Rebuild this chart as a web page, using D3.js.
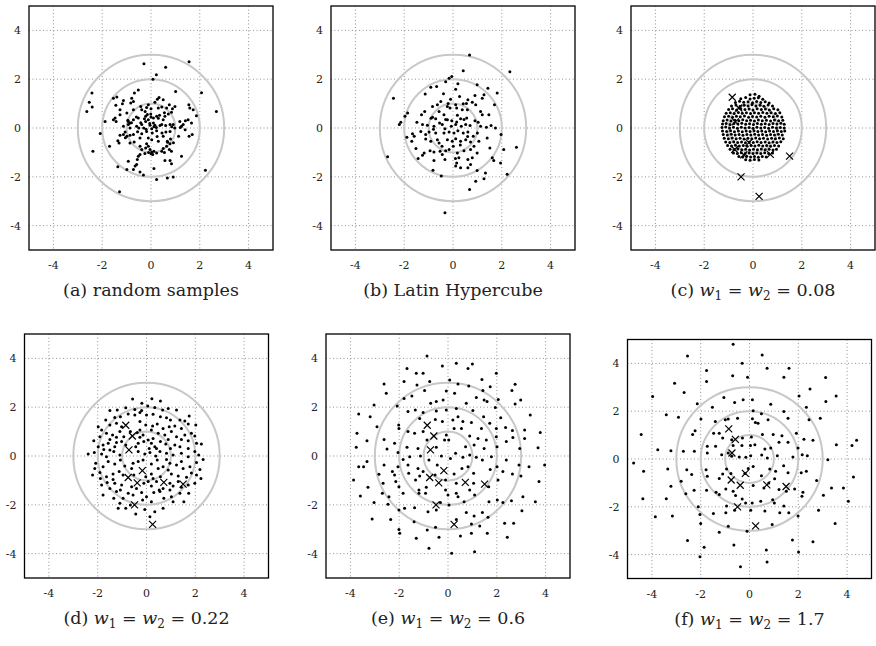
<!DOCTYPE html>
<html>
<head>
<meta charset="utf-8">
<title>Sample designs</title>
<script src="https://d3js.org/d3.v7.min.js"></script>
<style>
  body { margin: 0; background: #fff; }
  svg text { font-family: "DejaVu Serif", "Liberation Serif", serif; fill: #222; }
</style>
</head>
<body>
<div id="chart"></div>
<script>
// ---- data ----
var ticks = [-4, -2, 0, 2, 4];
var rings = [1, 2, 3];
var captionText = ["random samples", "Latin Hypercube"];
var weights = [0.08, 0.22, 0.6, 1.7];

// fixed points (drawn as crosses in c-f)
var crosses = [[-0.85,1.26],[-0.58,0.82],[-0.72,0.25],[-0.17,-0.6],[-0.75,-0.88],[-0.38,-1.1],[0.71,-1.08],[1.5,-1.15],[-0.49,-2.0],[0.25,-2.8]];

// (a) random samples
var dotsA = [[1.56,2.72],[-0.29,2.63],[0.6,2.49],[0.22,2.18],[0.08,2.0],[-0.52,1.56],[-0.68,1.43],[1.01,1.5],[2.07,1.44],[-2.42,1.43],
[-1.4,1.27],[-1.54,1.22],[-1.13,1.13],[-0.79,1.22],[0.33,1.25],[0.26,1.18],[0.5,1.16],[-2.53,1.06],[-0.72,1.09],[-1.17,0.99],
[-0.83,1.02],[0.16,1.06],[0.75,0.95],[0.98,0.88],[1.55,0.95],[-2.41,0.86],[-0.42,0.88],[-0.11,0.95],[0.44,0.86],[-0.18,0.84],
[-2.63,0.68],[2.68,0.68],[1.59,0.82],[1.73,0.75],[1.86,0.5],[-1.27,0.75],[-1.44,0.93],[-0.72,0.75],[-0.38,0.75],[-0.24,0.68],
[0.0,0.79],[0.3,0.82],[0.64,0.82],[0.88,0.79],[-0.01,0.57],[-0.22,0.48],[0.71,0.57],[0.84,0.65],[0.57,0.48],[-1.27,0.54],
[-0.99,0.61],[-1.47,0.41],[-1.43,0.27],[-1.54,0.34],[-0.93,0.27],[-0.86,0.2],[-0.72,0.34],[-0.52,0.41],[-0.27,0.38],[-0.11,0.34],
[0.1,0.41],[0.23,0.48],[0.5,0.34],[0.78,0.14],[1.18,0.27],[1.32,0.14],[1.41,0.3],[1.52,0.34],[-1.88,0.27],[0.44,0.14],
[0.1,0.2],[-1.13,0.07],[-0.93,0.14],[-0.86,0.0],[-0.59,0.07],[-0.38,0.14],[-0.22,0.27],[-0.04,0.11],[0.16,0.11],[0.37,0.1],
[0.6,0.1],[0.91,0.14],[1.25,0.07],[1.66,0.2],[-2.08,-0.23],[-1.27,-0.3],[-1.06,-0.16],[-0.99,-0.34],[-0.86,-0.3],[-0.72,-0.27],
[-0.38,-0.24],[-0.18,-0.14],[0.03,-0.03],[0.23,-0.11],[0.61,-0.16],[0.78,-0.14],[1.13,-0.34],[1.4,-0.07],[1.56,-0.34],[1.69,-0.27],
[-1.13,-0.27],[-1.36,-0.52],[-1.31,-0.61],[-0.86,-0.61],[-0.69,-0.57],[-0.45,-0.41],[-0.11,-0.41],[0.03,-0.48],[0.3,-0.54],[0.5,-0.34],
[0.67,-0.54],[0.78,-0.65],[-1.7,-0.75],[-0.18,-0.65],[-0.45,-0.75],[-0.38,-0.88],[-0.22,-0.82],[-0.11,-0.75],[-0.04,-0.88],[0.03,-0.98],
[0.12,-0.95],[0.23,-1.02],[0.44,-0.95],[0.5,-0.84],[0.64,-0.75],[0.75,-0.88],[0.84,-0.95],[-2.38,-0.95],[-0.45,-1.09],[0.07,-1.09],
[-0.52,-1.16],[-0.56,-1.29],[1.25,-1.16],[0.57,-1.33],[0.78,-1.33],[0.84,-1.47],[-0.93,-1.36],[-0.59,-1.5],[-0.65,-1.56],[-1.36,-1.59],
[-0.99,-1.7],[-0.72,-1.7],[-0.45,-1.8],[-0.31,-1.93],[0.12,-1.66],[2.23,-1.73],[0.23,-2.11],[0.67,-2.05],[0.91,-2.01],[-1.29,-2.61],
[-0.3,0.0],[-0.2,-0.05],[0.12,0.05],[0.22,0.02],[-0.05,0.18],[0.05,-0.2],[-0.42,0.22],[0.35,0.52],[-0.6,0.45],[0.45,-0.2],
[0.8,-0.45],[0.92,-0.6],[0.68,-0.58],[0.85,0.05],[0.97,0.0],[1.2,0.02],[-0.25,-1.05],[-0.1,-1.0],[0.0,-1.06],[0.55,-1.0],
[-1.05,-0.4],[-0.95,0.32],[-0.8,0.22],[0.55,0.62],[0.0,0.45],[-0.15,0.55],[0.3,0.4],[-0.5,0.0],[-0.55,-0.15],[0.25,-0.35]];

// (b) Latin hypercube
var dotsB = [[0.68,2.99],[0.42,2.35],[2.33,2.31],[-0.05,2.11],[-0.16,2.04],[-0.3,1.9],[0.2,1.81],[0.99,1.77],[1.43,1.63],[-0.91,1.67],
[-0.67,1.7],[0.11,1.59],[1.81,1.43],[-1.14,1.39],[-2.44,1.22],[-0.39,1.4],[0.9,1.33],[1.27,1.36],[1.2,1.22],[0.27,1.29],
[-0.1,1.18],[-0.5,1.09],[-0.84,0.88],[0.61,1.16],[0.42,0.99],[0.79,1.06],[0.93,0.95],[1.7,0.95],[0.11,0.95],[-0.23,0.88],
[-0.64,0.95],[-1.16,0.68],[-1.29,0.54],[-1.86,0.61],[-1.97,0.48],[-0.57,0.68],[-0.37,0.54],[-0.12,0.82],[0.15,0.82],[0.38,0.75],
[0.59,0.75],[1.13,0.68],[1.2,0.54],[1.47,0.54],[-0.84,0.44],[-0.71,0.38],[-0.23,0.34],[0.18,0.52],[0.31,0.38],[0.56,0.41],
[0.9,0.3],[1.03,0.24],[-2.14,0.24],[-2.2,0.14],[-1.48,0.24],[-1.25,0.14],[-1.05,0.11],[-0.78,0.07],[-0.44,0.14],[-0.33,-0.03],
[-0.07,0.07],[0.11,0.14],[0.34,0.07],[0.52,0.14],[1.13,0.07],[1.37,0.03],[1.56,0.1],[1.74,0.0],[-1.89,-0.38],[-1.66,-0.24],
[-1.59,-0.34],[-1.32,-0.14],[-1.12,-0.27],[-0.98,-0.16],[-0.71,-0.2],[-0.37,-0.2],[-0.16,-0.16],[0.04,-0.2],[0.2,-0.11],[0.42,-0.2],
[0.61,-0.16],[0.83,-0.34],[1.4,-0.41],[1.97,-0.27],[-1.69,-0.54],[-1.12,-0.45],[-0.91,-0.54],[-0.64,-0.48],[-0.57,-0.61],[-0.23,-0.48],
[-0.03,-0.54],[0.11,-0.44],[0.31,-0.54],[0.52,-0.48],[0.72,-0.57],[1.06,-0.54],[-1.52,-0.84],[-1.18,-1.02],[-0.94,-0.93],[-0.78,-0.98],
[-0.53,-0.95],[-0.44,-1.09],[-0.3,-0.93],[-0.16,-0.88],[0.01,-0.75],[0.18,-1.02],[0.45,-0.93],[0.72,-0.88],[0.86,-0.75],[0.99,-1.02],
[1.51,-0.82],[2.08,-0.88],[2.6,-0.79],[-2.68,-1.18],[-1.43,-1.25],[-1.25,-1.12],[-0.78,-1.33],[-0.33,-1.29],[0.24,-1.22],[0.15,-1.43],
[0.61,-1.29],[0.79,-1.22],[1.61,-1.22],[1.67,-1.33],[1.95,-1.43],[-0.82,-1.73],[-0.48,-1.97],[0.11,-1.56],[0.31,-1.63],[0.61,-1.63],
[0.72,-1.5],[0.99,-1.74],[1.33,-1.84],[1.27,-2.08],[0.93,-2.18],[2.22,-1.9],[0.68,-2.52],[-0.33,-3.47],[-0.05,0.3],[0.15,0.25],
[-0.3,0.35],[0.45,0.35],[-0.55,0.2],[0.7,0.1],[-0.8,-0.05],[0.6,-0.35],[0.3,-0.7],[-0.45,-0.75],[0.1,-1.25],[-0.9,0.4],
[1.0,-0.2],[0.55,1.0],[-0.2,1.0]];

// (c) w1 = w2 = 0.08
var dotsC = [[-0.12,1.36],[0.08,1.38],[0.25,1.3],
[-0.5,1.2],[-0.3,1.25],[-0.12,1.19],[0.05,1.22],[0.22,1.24],[0.4,1.18],
[-0.72,1.05],[-0.55,1.1],[-0.38,1.06],[-0.2,1.08],[-0.02,1.03],[0.15,1.09],[0.32,1.05],[0.5,1.08],[0.66,1.02],
[-0.88,0.9],[-0.7,0.94],[-0.53,0.89],[-0.36,0.93],[-0.2,0.9],[-0.04,0.95],[0.12,0.9],[0.29,0.93],[0.45,0.89],[0.62,0.94],[0.8,0.9],
[-1.0,0.76],[-0.84,0.79],[-0.67,0.74],[-0.5,0.79],[-0.33,0.76],[-0.16,0.78],[0.0,0.74],[0.17,0.79],[0.34,0.76],[0.51,0.78],[0.67,0.74],[0.85,0.79],[1.02,0.75],
[-1.1,0.6],[-0.93,0.63],[-0.77,0.59],[-0.6,0.64],[-0.44,0.6],[-0.27,0.62],[-0.1,0.59],[0.06,0.63],[0.23,0.6],[0.4,0.64],[0.57,0.6],[0.74,0.62],[0.92,0.59],[1.1,0.63],
[-1.17,0.46],[-1.0,0.48],[-0.84,0.44],[-0.68,0.48],[-0.52,0.46],[-0.35,0.49],[-0.18,0.44],[-0.02,0.47],[0.15,0.45],[0.32,0.48],[0.49,0.44],[0.66,0.48],[0.83,0.46],[1.0,0.49],[1.18,0.45],
[-1.22,0.3],[-1.06,0.33],[-0.9,0.29],[-0.74,0.32],[-0.58,0.3],[-0.42,0.34],[-0.26,0.3],[-0.1,0.32],[0.06,0.29],[0.22,0.33],[0.38,0.3],[0.55,0.32],[0.72,0.29],[0.88,0.33],[1.05,0.3],[1.22,0.32],
[-1.25,0.16],[-1.1,0.18],[-0.94,0.14],[-0.78,0.18],[-0.62,0.16],[-0.46,0.19],[-0.3,0.15],[-0.14,0.17],[0.02,0.14],[0.18,0.18],[0.34,0.15],[0.5,0.17],[0.66,0.14],[0.82,0.18],[0.98,0.16],[1.14,0.19],[1.28,0.15],
[-1.27,0.02],[-1.12,0.04],[-0.96,0.0],[-0.8,0.03],[-0.64,-0.01],[-0.48,0.03],[-0.32,0.0],[-0.16,0.02],[0.0,-0.01],[0.16,0.03],[0.32,0.0],[0.48,0.02],[0.64,-0.01],[0.8,0.03],[0.96,0.0],[1.12,0.02],[1.28,0.0],
[-1.25,-0.12],[-1.08,-0.14],[-0.92,-0.11],[-0.76,-0.15],[-0.6,-0.12],[-0.44,-0.15],[-0.28,-0.12],[-0.12,-0.14],[0.04,-0.11],[0.2,-0.14],[0.36,-0.12],[0.52,-0.15],[0.68,-0.12],[0.84,-0.14],[1.0,-0.11],[1.16,-0.14],[1.3,-0.12],
[-1.22,-0.27],[-1.05,-0.29],[-0.89,-0.26],[-0.73,-0.29],[-0.57,-0.27],[-0.41,-0.3],[-0.25,-0.27],[-0.09,-0.29],[0.07,-0.26],[0.23,-0.29],[0.39,-0.27],[0.56,-0.3],[0.72,-0.27],[0.88,-0.29],[1.04,-0.26],[1.2,-0.29],
[-1.18,-0.42],[-1.01,-0.44],[-0.85,-0.41],[-0.69,-0.44],[-0.53,-0.42],[-0.37,-0.45],[-0.21,-0.42],[-0.05,-0.44],[0.11,-0.41],[0.27,-0.44],[0.43,-0.42],[0.6,-0.45],[0.76,-0.42],[0.92,-0.44],[1.08,-0.41],[1.24,-0.44],
[-1.12,-0.57],[-0.95,-0.59],[-0.79,-0.56],[-0.63,-0.59],[-0.47,-0.57],[-0.31,-0.6],[-0.15,-0.57],[0.01,-0.59],[0.17,-0.56],[0.33,-0.59],[0.5,-0.57],[0.66,-0.6],[0.82,-0.57],[0.98,-0.59],[1.14,-0.56],
[-1.04,-0.72],[-0.88,-0.74],[-0.72,-0.71],[-0.56,-0.74],[-0.4,-0.72],[-0.24,-0.75],[-0.08,-0.72],[0.08,-0.74],[0.24,-0.71],[0.4,-0.74],[0.56,-0.72],[0.72,-0.75],[0.88,-0.72],[1.05,-0.74],
[-0.94,-0.87],[-0.78,-0.89],[-0.62,-0.86],[-0.46,-0.89],[-0.3,-0.87],[-0.14,-0.9],[0.02,-0.87],[0.18,-0.89],[0.34,-0.86],[0.5,-0.89],[0.66,-0.87],[0.82,-0.9],[0.96,-0.87],
[-0.8,-1.02],[-0.64,-1.04],[-0.48,-1.01],[-0.32,-1.04],[-0.16,-1.02],[0.0,-1.05],[0.16,-1.02],[0.32,-1.04],[0.48,-1.01],[0.64,-1.04],[0.8,-1.02],
[-0.58,-1.17],[-0.42,-1.19],[-0.26,-1.16],[-0.1,-1.19],[0.06,-1.17],[0.22,-1.2],[0.38,-1.17],[0.54,-1.19],
[-0.3,-1.3],[-0.12,-1.32],[0.06,-1.29],[0.24,-1.31]];

// (d) w1 = w2 = 0.22
var dotsD = [[-0.57,2.34],[0.22,2.35],[0.57,2.25],[-0.19,2.16],
[-1.5,1.86],[-1.2,1.89],[-0.85,1.98],[-0.48,1.91],[-0.2,1.86],[0.05,2.05],[0.34,1.99],[0.66,1.89],[0.89,1.95],[1.23,1.89],[1.75,1.64],
[-1.67,1.48],[-1.3,1.58],[-1.07,1.61],[-0.75,1.72],[-0.48,1.68],[-0.27,1.78],[0.0,1.68],[0.27,1.71],[0.57,1.61],[0.82,1.57],[0.98,1.48],[1.37,1.48],[1.57,1.43],
[-1.98,1.2],[-1.5,1.27],[-1.23,1.34],[-1.02,1.2],[-0.27,1.41],[-0.03,1.27],[0.25,1.23],[0.44,1.31],[0.68,1.13],[0.93,1.2],[1.16,1.23],[1.43,1.13],[1.71,1.31],[2.02,1.27],[-1.84,1.07],[0.2,1.07],[-0.27,1.07],
[-1.64,0.93],[-1.39,0.86],[-1.09,1.0],[-0.66,1.0],[-0.38,0.96],[-0.14,0.86],[0.48,0.93],[0.75,0.86],[1.02,1.0],[1.23,0.79],[1.57,0.86],[1.84,0.93],[1.98,0.82],[-1.91,0.79],[-2.16,0.63],[-1.5,0.68],[-1.23,0.77],[-0.93,0.79],[-0.27,0.77],[0.89,0.68],[1.43,0.68],[1.71,0.63],
[-1.78,0.45],[-1.57,0.52],[-1.3,0.38],[-1.02,0.59],[-0.85,0.45],[-0.34,0.52],[-0.11,0.59],[0.2,0.52],[0.34,0.38],[0.57,0.59],[1.16,0.45],[1.37,0.38],[1.71,0.31],[2.05,0.52],[2.25,0.49],[-1.98,0.38],[-1.23,0.55],[-0.44,0.38],[0.07,0.66],[0.27,0.72],[0.79,0.49],[0.98,0.31],
[-2.39,0.08],[-2.14,0.14],[-1.84,0.08],[-1.64,-0.03],[-1.34,0.18],[-1.09,0.04],[-0.34,0.18],[-0.07,0.08],[0.14,0.14],[0.38,0.0],[0.55,0.18],[0.82,0.11],[1.09,0.04],[1.43,0.11],[1.71,-0.03],[1.98,0.18],[2.14,0.04],[2.32,-0.14],[-1.75,0.27],[-1.5,0.25],[0.11,0.31],[0.41,0.31],[-0.14,-0.16],[0.82,-0.14],
[-2.08,-0.3],[-1.78,-0.44],[-1.57,-0.23],[-1.3,-0.33],[-1.07,-0.16],[-0.89,-0.41],[-0.55,-0.3],[-0.34,-0.23],[0.2,-0.33],[0.44,-0.16],[0.68,-0.44],[0.96,-0.3],[1.23,-0.37],[1.5,-0.51],[1.78,-0.44],[2.05,-0.27],[2.19,-0.55],[-2.12,-0.51],[-0.61,-0.51],[0.48,-0.51],[0.89,-0.57],[1.43,-0.23],
[-2.21,-0.78],[-1.91,-0.68],[-1.64,-0.85],[-1.37,-0.74],[-1.12,-0.64],[-0.96,-0.78],[-0.52,-0.78],[-0.03,-0.85],[0.2,-0.74],[0.27,-0.92],[0.57,-0.85],[1.02,-0.74],[1.3,-0.82],[1.64,-0.87],[1.84,-0.7],[2.05,-0.78],[2.23,-0.92],[-1.89,-0.92],[-1.37,-0.96],[0.07,-1.05],
[-1.84,-1.19],[-1.61,-1.09],[-1.3,-1.12],[-1.02,-1.19],[-0.61,-1.26],[-0.11,-1.12],[0.2,-1.23],[0.41,-1.05],[0.68,-1.33],[0.96,-1.12],[1.09,-1.23],[1.43,-1.28],[1.71,-1.19],[1.98,-1.12],[-1.5,-1.33],[-1.07,-1.39],[-0.41,-1.33],[0.52,-1.39],[0.96,-1.39],[1.3,-1.05],
[-1.78,-1.6],[-1.34,-1.73],[-0.96,-1.73],[-0.75,-1.53],[-0.55,-1.6],[-0.2,-1.5],[0.0,-1.67],[0.3,-1.5],[0.55,-1.46],[0.71,-1.73],[1.02,-1.67],[1.37,-1.53],[1.73,-1.53],[-1.23,-1.46],[-0.16,-1.8],[0.2,-1.87],[1.09,-1.87],
[-1.16,-2.14],[-0.85,-2.14],[-0.66,-2.01],[-0.44,-2.38],[-0.07,-2.19],[0.34,-2.28],[0.68,-2.14],[1.53,-1.87],[0.14,-2.49],[-1.09,-1.94]];

// (e) w1 = w2 = 0.6
var dotsE = [[-0.86,4.1],[-0.23,3.69],[0.34,3.8],[0.82,3.59],[1.0,3.77],[-1.68,3.59],[-1.3,3.39],[-1.02,3.39],[1.98,3.39],[1.39,3.14],
[1.73,2.84],[-2.62,2.95],[-2.53,2.57],[-1.8,3.05],[-1.27,2.91],[-0.75,3.05],[0.07,3.11],[0.41,2.95],[0.85,2.87],[1.43,2.68],
[2.62,2.68],[2.75,2.94],[2.06,2.32],[2.98,2.3],[2.75,2.13],[3.37,1.68],[-0.96,2.68],[-0.07,2.66],[0.27,2.57],[1.16,2.4],
[1.48,2.3],[1.6,2.23],[-1.48,2.46],[-1.8,2.36],[-2.08,2.05],[-3.03,2.09],[-0.48,2.23],[-0.71,2.16],[-0.2,2.3],[0.75,2.16],
[0.34,1.95],[-0.07,1.89],[1.02,1.86],[1.46,1.61],[1.94,1.99],[2.16,1.57],[-3.66,1.72],[-3.19,1.61],[-2.91,1.2],[-1.64,1.82],
[-1.34,1.89],[-1.02,1.78],[-0.48,1.84],[-1.16,1.54],[-0.52,1.5],[-0.23,1.41],[0.2,1.48],[0.41,1.61],[0.61,1.41],[0.25,1.13],
[0.55,1.13],[0.96,1.37],[1.37,1.13],[1.71,1.34],[1.98,1.13],[2.36,1.17],[2.64,1.04],[3.14,1.07],[3.78,0.96],[-3.73,0.93],
[-3.32,0.63],[-3.76,0.36],[-2.62,0.68],[-2.02,1.27],[-2.01,1.13],[-1.64,1.0],[-1.37,0.93],[-1.02,1.0],[-0.86,0.66],[-0.07,0.86],
[-0.14,0.66],[0.03,0.66],[0.89,0.82],[1.23,0.72],[1.57,0.66],[1.98,0.79],[2.39,0.59],[2.66,0.76],[3.14,0.72],[-2.5,0.29],
[-2.19,0.52],[-1.68,0.36],[-1.23,0.31],[-0.48,0.36],[0.72,0.38],[1.07,0.45],[1.48,0.31],[2.01,0.38],[2.94,0.31],[3.69,0.34],
[-3.66,-0.44],[-3.46,-0.44],[-3.32,-0.23],[-3.87,-0.98],[3.96,-0.37],[-2.62,-0.37],[-2.05,0.14],[-1.84,-0.14],[-1.57,-0.03],[-1.13,0.0],
[-0.78,-0.16],[-0.27,0.0],[0.1,-0.1],[0.31,0.11],[0.61,-0.05],[0.89,0.04],[1.16,-0.05],[1.41,-0.16],[1.78,-0.03],[2.39,-0.16],
[2.91,-0.37],[3.32,-0.44],[-2.05,-0.44],[-1.64,-0.37],[-1.23,-0.51],[-0.44,-0.37],[0.25,-0.74],[0.57,-0.51],[0.82,-0.44],[1.05,-0.71],
[1.73,-0.55],[2.01,-0.44],[2.25,-0.64],[2.64,-0.74],[2.99,-0.82],[3.73,-1.05],[-2.83,-0.75],[-2.28,-0.64],[-2.19,-0.78],[-1.61,-0.71],
[-1.16,-0.82],[-1.02,-0.64],[-0.53,-0.78],[-0.1,-0.98],[0.34,-1.12],[1.05,-1.12],[2.05,-0.98],[-2.66,-1.12],[-3.28,-1.28],[-3.59,-1.64],
[-2.69,-1.53],[-2.42,-1.67],[-2.14,-1.05],[-2.01,-1.26],[-1.84,-1.53],[-1.33,-0.98],[-1.19,-1.39],[-1.19,-1.53],[-0.92,-1.53],[-0.89,-1.28],
[-0.1,-1.39],[0.0,-1.6],[0.34,-1.53],[0.41,-1.67],[0.89,-1.39],[1.09,-1.6],[1.67,-1.26],[1.68,-1.87],[2.02,-1.8],[2.25,-1.91],
[2.6,-1.83],[3.07,-1.67],[3.58,-1.87],[-3.03,-1.91],[-2.46,-1.98],[-2.01,-2.21],[-1.78,-2.14],[-1.37,-2.12],[-0.82,-2.28],[-0.48,-2.21],
[-0.31,-1.91],[0.04,-2.01],[0.66,-1.87],[0.75,-2.32],[1.07,-2.46],[1.41,-2.32],[1.64,-2.51],[3.03,-2.24],[-3.11,-2.58],[-2.35,-2.6],
[-2.01,-3.01],[-1.98,-3.17],[-1.39,-2.69],[-0.85,-3.03],[-0.51,-2.92],[0.34,-2.6],[0.96,-2.79],[1.3,-2.87],[1.61,-3.17],[2.32,-2.76],
[2.69,-2.76],[2.43,-3.33],[-1.3,-3.37],[-0.37,-3.33],[0.51,-3.28],[0.96,-3.17],[-0.78,-3.78],[0.15,-3.99],[1.09,-3.92]];

// (f) w1 = w2 = 1.7
var dotsF = [[-0.67,4.8],[-2.54,4.31],[0.52,4.35],[-0.3,4.01],[0.72,3.8],[1.62,3.8],[-1.76,3.7],[-1.76,3.24],[-0.69,3.48],[-0.08,3.42],
[1.41,3.42],[3.12,3.41],[-3.07,3.17],[-2.68,2.78],[-3.97,2.61],[-1.05,2.57],[2.48,2.93],[2.03,2.64],[-0.61,2.36],[-0.26,2.48],
[0.12,2.48],[3.55,2.64],[3.13,2.41],[2.33,2.17],[-2.14,2.31],[-1.52,2.17],[-3.41,1.85],[-2.91,1.75],[-1.99,1.67],[-1.4,1.57],
[-0.99,1.64],[-0.87,1.67],[-0.49,1.7],[0.15,2.02],[0.49,1.89],[0.87,2.29],[1.41,1.99],[1.58,1.71],[2.44,1.64],[2.9,1.71],
[0.12,1.68],[0.24,1.53],[0.35,1.5],[0.76,1.64],[-2.33,1.02],[-2.23,1.18],[-1.47,1.08],[-1.24,1.08],[-1.1,0.88],[-0.73,0.81],
[-0.29,0.88],[0.08,0.92],[0.53,1.02],[0.97,1.02],[1.33,0.97],[1.58,0.7],[1.92,1.08],[2.23,0.83],[2.6,0.78],[3.56,0.6],
[4.39,0.78],[-4.44,1.02],[-3.76,0.39],[-3.22,0.35],[-2.71,0.32],[-2.26,0.32],[-1.73,0.53],[-1.39,0.53],[-0.67,0.56],[-0.31,0.56],
[0.04,0.56],[0.22,0.6],[0.63,0.42],[0.87,0.46],[1.21,0.7],[1.99,0.46],[4.2,0.56],[-1.73,0.25],[-1.14,0.18],[-0.87,0.25],
[-0.73,0.11],[-0.42,0.08],[-0.15,0.07],[0.05,0.14],[0.5,0.17],[0.73,0.04],[1.14,0.14],[1.78,0.08],[2.16,0.18],[2.37,0.14],
[3.21,-0.03],[-4.75,-0.17],[-4.34,-0.51],[-3.35,-0.42],[-2.57,-0.45],[-2.37,-0.65],[-1.78,-0.45],[-1.73,-0.72],[-1.24,-0.82],[-1.1,-0.63],
[-0.94,-0.42],[-0.76,-0.61],[-0.19,-0.61],[-0.05,-0.4],[0.15,-0.31],[0.49,-0.7],[0.83,-0.42],[1.07,-0.51],[1.4,-0.28],[1.58,-0.58],
[2.12,-0.58],[2.33,-0.51],[4.26,-0.75],[3.85,-1.21],[-3.22,-1.14],[-2.8,-0.93],[-2.61,-1.45],[-2.27,-1.31],[-1.76,-1.31],[-1.37,-1.39],
[-1.24,-1.49],[-0.97,-1.25],[-0.67,-1.35],[-0.57,-1.53],[0.15,-1.11],[0.59,-1.21],[0.79,-1.0],[1.03,-0.83],[1.21,-1.28],[1.51,-1.35],
[1.85,-1.25],[2.15,-1.56],[2.75,-0.9],[3.03,-1.52],[3.36,-1.21],[-4.37,-1.66],[-3.41,-1.66],[-2.1,-2.0],[-1.48,-2.28],[-0.94,-1.97],
[-0.61,-2.14],[-0.3,-1.67],[-0.16,-1.84],[0.11,-1.84],[0.46,-1.77],[0.95,-1.7],[1.02,-1.84],[1.41,-1.97],[1.61,-2.25],[2.19,-1.39],
[2.83,-2.14],[4.05,-1.77],[-3.86,-2.42],[-3.16,-2.39],[-2.03,-2.32],[-0.97,-2.25],[0.05,-2.14],[0.63,-2.18],[0.93,-2.74],[1.24,-2.25],
[1.99,-2.39],[3.51,-2.7],[-2.0,-2.7],[-1.24,-3.06],[-0.87,-2.81],[-0.1,-3.02],[-0.64,-3.6],[-2.54,-3.41],[-1.86,-3.69],[1.76,-3.39],
[2.6,-3.46],[-2.03,-4.09],[-0.37,-4.51],[0.72,-4.31],[0.69,-3.81],[2.01,-3.89]];

// ---- layout ----
var W = 876, H = 646;
var svg = d3.select("#chart").append("svg")
    .attr("width", W)
    .attr("height", H);

// frame of each panel in pixels
var panels = [
    {dots: dotsA, x0: 29,    x1: 273,   y0: 6,     y1: 250,   cap: "a", name: captionText[0]},
    {dots: dotsB, x0: 331,   x1: 575,   y0: 6,     y1: 250,   cap: "b", name: captionText[1]},
    {dots: dotsC, x0: 631,   x1: 875,   y0: 6,     y1: 250,   cap: "c", w: weights[0]},
    {dots: dotsD, x0: 24.5,  x1: 268.5, y0: 334,   y1: 578,   cap: "d", w: weights[1]},
    {dots: dotsE, x0: 326,   x1: 570,   y0: 334,   y1: 578,   cap: "e", w: weights[2]},
    {dots: dotsF, x0: 627.5, x1: 871.5, y0: 339.5, y1: 578.5, cap: "f", w: weights[3]}
];

panels.forEach(function(p, i) {
    var x = d3.scaleLinear().domain([-5, 5]).range([p.x0, p.x1]);
    var y = d3.scaleLinear().domain([-5, 5]).range([p.y1, p.y0]);
    var g = svg.append("g");

    // dotted grid
    g.selectAll(".gx").data(ticks).enter().append("line")
        .attr("x1", function(d){ return x(d); }).attr("x2", function(d){ return x(d); })
        .attr("y1", p.y0).attr("y2", p.y1)
        .attr("stroke", "#777").attr("stroke-width", 0.8)
        .attr("stroke-dasharray", "1,2.5");
    g.selectAll(".gy").data(ticks).enter().append("line")
        .attr("y1", function(d){ return y(d); }).attr("y2", function(d){ return y(d); })
        .attr("x1", p.x0).attr("x2", p.x1)
        .attr("stroke", "#777").attr("stroke-width", 0.8)
        .attr("stroke-dasharray", "1,2.5");

    // grey rings
    g.selectAll(".ring").data(rings).enter().append("ellipse")
        .attr("cx", x(0)).attr("cy", y(0))
        .attr("rx", function(d){ return x(d) - x(0); })
        .attr("ry", function(d){ return y(0) - y(d); })
        .attr("fill", "none")
        .attr("stroke", "#c8c8c8")
        .attr("stroke-width", 2);

    // sample points
    g.selectAll(".dot").data(p.dots).enter().append("circle")
        .attr("cx", function(d){ return x(d[0]); })
        .attr("cy", function(d){ return y(d[1]); })
        .attr("r", 1.5)
        .attr("fill", "#000");

    // fixed points as crosses
    if (p.w !== undefined) {
        var s = 3.5;
        g.selectAll(".cross").data(crosses).enter().append("path")
            .attr("d", function(d) {
                var cx = x(d[0]), cy = y(d[1]);
                return "M" + (cx - s) + "," + (cy - s) + "L" + (cx + s) + "," + (cy + s) +
                       "M" + (cx - s) + "," + (cy + s) + "L" + (cx + s) + "," + (cy - s);
            })
            .attr("stroke", "#000")
            .attr("stroke-width", 1.2)
            .attr("fill", "none");
    }

    // frame
    g.append("rect")
        .attr("x", p.x0).attr("y", p.y0)
        .attr("width", p.x1 - p.x0).attr("height", p.y1 - p.y0)
        .attr("fill", "none").attr("stroke", "#000").attr("stroke-width", 1.3);

    // tick labels
    g.selectAll(".xt").data(ticks).enter().append("text")
        .attr("x", function(d){ return x(d); })
        .attr("y", p.y1 + 19)
        .attr("text-anchor", "middle")
        .style("font-size", "11px")
        .text(function(d){ return d; });
    g.selectAll(".yt").data(ticks).enter().append("text")
        .attr("x", p.x0 - 8)
        .attr("y", function(d){ return y(d) + 4; })
        .attr("text-anchor", "end")
        .style("font-size", "11px")
        .text(function(d){ return d; });

    // caption
    var cap = g.append("text")
        .attr("x", (p.x0 + p.x1) / 2)
        .attr("y", p.y1 + 46)
        .attr("text-anchor", "middle")
        .style("font-size", "17.5px");
    if (p.w === undefined) {
        cap.text("(" + p.cap + ") " + p.name);
    } else {
        cap.append("tspan").text("(" + p.cap + ") ");
        cap.append("tspan").style("font-style", "italic").text("w");
        cap.append("tspan").attr("dy", 4).style("font-size", "12px").text("1");
        cap.append("tspan").attr("dy", -4).text(" = ");
        cap.append("tspan").style("font-style", "italic").text("w");
        cap.append("tspan").attr("dy", 4).style("font-size", "12px").text("2");
        cap.append("tspan").attr("dy", -4).text(" = " + p.w);
    }
});
</script>
</body>
</html>
